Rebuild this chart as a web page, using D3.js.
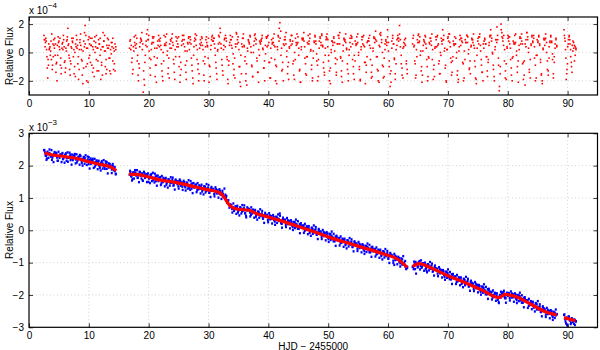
<!DOCTYPE html>
<html><head><meta charset="utf-8">
<script src="https://cdn.jsdelivr.net/npm/d3@7"></script>
<style>
html,body{margin:0;padding:0;background:#fff;}
svg{display:block;font-family:"Liberation Sans",Arial,Helvetica,sans-serif;}
</style></head><body>
<svg id="chart" width="600" height="350"></svg>
<script>
// ---------- data ----------
const xTicks = [0,10,20,30,40,50,60,70,80,90];
const topYTicks = [-2,0,2];
const botYTicks = [-3,-2,-1,0,1,2,3];
const xLabel = "HJD \u2212 2455000";
const yLabel = "Relative Flux";
const topExp = "\u22124";
const botExp = "\u22123";

// observing segments (HJD - 2455000)
const segStart = [2.5, 16.8, 64.1, 89.4];
const segEnd   = [14.5, 63.2, 88.2, 91.4];

// residuals, units of 1e-4, per segment (two interleaved cadences)
const residA = [1.2,0.9,0.7,0.8,-0.3,-1.8,-0.9,0.2,0.4,0.1,-0.5,-1.2,0.6,0.9,0.3,-0.2,-1.4,-0.7,0.5,1.1,0.8,0.2,-0.9,-1.5,0.3,0.7,1.2,0.4,-0.6,-1.1,0.1,0.9,1.7,0.6,-0.4,-1.6,-0.8,0.3,0.8,1.0,0.2,-1.0,-1.7,0.4,0.9,0.5,-0.3,-1.2,0.7,1.3,0.2,-0.6,-2.2,-1.1,0.4,1.9,1.2,0.3,-0.8,-2.1,-0.4,0.6,1.0,0.5,-0.9,-1.4,0.2,0.8,1.1,0.4,-0.5,-1.3,0.3,0.9,0.6,-0.2,-1.9,-0.7,0.4,1.4,0.8,0.1,-1.0,-1.5,0.5,1.0,0.3,-0.4,-1.3,0.2,0.7,0.4,-0.6,-1.2,0.1,0.6,0.2];
const residA2 = [0.9,0.4,1.0,0.2,-1.1,-0.5,0.6,0.3,-0.2,0.8,1.3,-0.9,-0.3,0.5,1.0,0.6,-0.8,-2.0,-0.2,0.7,0.4,1.0,-0.4,-1.1,0.6,0.2,0.9,-0.7,-1.4,0.3,0.8,1.1,0.5,-0.2,-1.2,-0.6,0.4,1.0,0.7,-0.3,-1.5,0.0,0.6,1.2,0.3,-0.8,-1.9,0.2,0.9,0.5,-0.5,-1.6,0.1,0.8,1.4,0.6,-1.0,-2.0,0.3,0.9,1.1,-0.2,-0.7,0.5,1.0,0.4,-1.1,-1.7,0.0,0.7,1.2,0.3,-0.6,-1.3,0.6,1.0,0.2,-0.9,-1.6,0.4,0.8,1.2,0.1,-0.5,-1.2,0.3,0.9,0.5,-0.4,-1.5,-0.1,0.7,1.0,0.3,-0.8,-1.3,0.4];
const residB = [0.3,0.9,0.5,-0.4,-1.2,0.1,0.7, 1.2,0.6,-0.6,-1.6,-0.8,0.4,1.0, 0.8,0.2,-2.8,-1.9,-0.7,0.5,1.3, 1.6,0.9,0.1,-1.1,-0.5,0.6,1.1, 0.7,-0.3,-1.7,-0.9,0.3,0.8,1.2, 0.4,1.0,0.2,-1.3,-2.0,-0.6,0.5, 1.1,0.7,-0.2,-1.5,-0.4,0.6,0.9, 0.3,1.3,0.5,-0.8,-1.9,-0.3,0.8, 1.0,0.4,-1.0,-2.1,-0.7,0.5,1.2, 0.6,0.9,0.1,-1.4,-0.6,0.7,1.0, 0.2,1.1,0.6,-0.9,-1.8,-0.2,0.8, 1.3,0.5,-0.5,-1.2,-2.0,0.3,0.9, 0.7,1.0,0.2,-1.6,-0.8,0.4,1.1, 0.5,-0.4,-2.1,-1.0,0.2,0.9,1.2, 0.8,1.0,0.3,-0.7,-1.5,0.1,0.6, 1.1,1.7,0.6,-0.5,-1.3,0.2,0.9, 0.4,1.0,-0.3,-1.9,-0.9,0.5,1.2, 0.9,0.3,-0.8,-1.6,-0.4,0.6,1.4, 0.6,1.1,0.2,-1.0,-2.4,-1.5,0.4, 1.0,0.5,-0.6,-2.0,-0.8,0.3,0.9, 0.7,1.2,0.4,-0.9,-1.7,0.0,0.8, 1.3,0.6,-0.4,-1.4,-2.1,-0.2,0.7, 0.9,1.0,0.3,-1.1,-0.6,0.5,1.1, 0.4,1.2,0.7,-0.7,-1.8,-0.4,0.6, 1.0,0.5,-0.5,-2.0,-1.0,0.4,1.2, 0.8,2.1,1.5,0.3,-1.2,-2.0,0.5, 1.1,0.6,-0.3,-1.5,-0.7,0.4,0.9, 0.5,1.2,0.8,-0.6,-1.9,-0.5,0.7, 1.3,0.7,-0.2,-1.3,-2.1,0.2,1.0, 0.9,1.4,0.4,-0.8,-1.6,-0.3,0.6, 0.6,1.0,0.1,-1.2,-2.0,-0.4,0.8, 1.2,0.8,-0.1,-0.9,-1.7,0.3,1.1, 0.7,1.3,0.5,-0.7,-1.4,-0.2,0.9, 1.0,0.4,-0.6,-2.0,-1.1,0.2,0.8, 0.5,1.1,0.7,-0.4,-1.6,-0.5,0.6, 1.2,0.6,-0.3,-1.3,-2.1,0.1,1.0, 0.8,1.3,0.3,-0.8,-1.5,-0.2,0.7, 0.4,1.0,0.6,-1.0,-1.9,-0.6,0.5, 1.1,0.7,-0.2,-1.2,-2.0,0.2,0.9, 0.6,1.2,0.4,-0.7,-1.4,-0.3,0.8, 1.0,0.5,-0.5,-1.8,-0.9,0.3,1.1, 0.7,1.5,0.8,-0.3,-1.3,-2.1,0.4, 1.2,0.9,0.0,-1.0,-1.7,0.2,0.8, 0.5,1.6,0.7,-0.6,-2.4,-1.3,0.3, 1.0,0.6,-0.4,-1.5,-0.8,0.5,1.2, 0.8,1.9,0.9,-0.2,-1.1,-1.8,0.4, 0.9,0.5,-0.6,-1.5];
const residB2 = [0.8,0.2,-0.7,-1.5,0.4,1.1,0.5, 0.3,1.0,-0.2,-2.0,-1.1,0.7,0.9, 1.4,0.6,-1.3,-2.3,-0.2,0.8,0.4, 0.9,1.2,-0.4,-1.6,0.2,0.7,1.0, 1.1,0.3,-0.9,-2.1,-0.4,0.5,0.9, 0.8,0.5,-0.8,-1.7,0.0,1.2,0.6, 0.5,1.3,0.1,-1.1,-1.8,0.3,0.8, 1.0,0.7,-0.5,-1.4,0.2,1.1,0.4, 0.6,1.1,-0.3,-1.6,-1.2,0.8,0.9, 1.2,0.4,-0.9,-1.9,0.1,0.6,1.1, 0.7,0.9,-0.4,-1.3,-2.2,0.4,1.0, 0.9,1.2,0.2,-0.8,-1.5,0.6,0.5, 1.1,0.5,-0.6,-2.0,-0.3,0.9,0.7, 0.4,1.0,-0.9,-1.7,0.5,1.1,0.8, 1.0,0.6,-0.2,-1.1,-1.9,0.2,1.2, 0.7,1.4,0.3,-0.9,-1.6,0.5,1.0, 1.2,0.8,-0.5,-2.2,-0.6,0.7,0.9, 0.5,1.1,-0.1,-1.2,-1.8,0.4,1.3, 0.9,0.7,-1.0,-2.1,-0.2,0.6,1.0, 1.3,0.4,-0.3,-1.5,-2.3,0.1,0.8, 0.6,1.1,0.0,-1.0,-1.7,0.5,1.2, 1.0,0.9,-0.6,-1.4,0.2,0.8,0.6, 0.8,1.2,0.2,-1.1,-2.0,-0.1,1.0, 1.1,0.5,-0.7,-1.8,0.3,0.9,0.7, 0.7,1.3,0.4,-0.9,-2.2,0.2,1.1, 1.7,1.0,-0.2,-1.3,-0.7,0.6,0.9, 0.9,1.4,0.1,-1.0,-1.9,0.3,0.8, 1.2,0.6,-0.8,-1.6,0.0,1.0,0.5, 0.6,1.1,0.3,-1.2,-2.1,0.4,0.9, 1.0,0.8,-0.4,-1.5,-0.3,0.7,1.2, 0.8,1.3,0.2,-0.9,-1.8,0.1,0.7, 1.1,0.6,-0.6,-2.0,-0.5,0.8,1.0, 0.5,1.2,0.4,-1.1,-1.6,0.3,1.1, 1.3,0.9,-0.2,-1.3,-2.2,0.0,0.8, 0.7,1.0,0.1,-0.8,-1.4,0.6,1.2, 1.0,1.4,-0.4,-1.7,-0.6,0.5,0.9, 0.9,0.7,0.2,-1.2,-2.0,0.2,1.0, 1.2,1.1,-0.5,-1.5,-0.2,0.8,0.6, 0.6,1.3,0.0,-1.0,-1.9,0.4,1.1, 1.1,0.5,-0.7,-2.2,-0.9,0.7,0.8, 0.8,1.2,0.3,-1.4,-1.7,0.1,1.0, 1.0,0.9,-0.3,-1.2,-2.0,0.5,1.3, 1.4,0.7,-0.9,-1.8,-0.4,0.6,0.9, 0.7,1.1,0.1,-1.0,-1.5,-2.1,0.8, 1.2,0.6,-0.5,-1.9,0.2,0.9,1.0, 1.0,1.3,0.4,-0.8,-1.6,0.3,0.7, 0.6,1.0,-0.8,-1.2];
const residC = [0.6,1.2,0.5,-0.8,-1.6,-0.3,0.7, 1.3,0.8,-0.2,-1.3,-2.1,0.1,0.9, 0.7,1.1,0.3,-1.0,-1.7,-0.4,0.6, 1.0,0.5,-0.5,-1.9,-0.9,0.3,1.1, 0.4,1.2,0.6,-0.6,-1.5,-0.2,0.8, 1.6,0.9,0.1,-1.1,-2.0,0.2,1.0, 0.8,1.3,0.4,-0.7,-1.4,-0.3,0.6, 1.1,0.6,-0.4,-1.6,-2.1,0.1,0.9, 0.5,1.0,0.7,-0.8,-1.8,-0.5,0.7, 1.2,0.7,-0.1,-1.2,-0.6,0.4,1.0, 0.9,1.3,0.3,-1.0,-1.9,-0.2,0.8, 0.6,1.1,0.5,-0.5,-1.4,-2.0,0.3, 1.0,0.6,-0.3,-1.3,-0.7,0.5,1.1, 1.6,0.8,0.0,-0.9,-1.7,0.2,0.9, 0.7,1.2,-0.4,-2.7,-1.5,2.0,1.4, 1.0,0.5,-0.6,-1.8,-0.8,0.4,1.2, 0.8,1.1,0.3,-1.1,-2.0,-0.3,0.6, 1.2,0.7,-0.2,-1.4,-0.6,0.5,1.0, 0.6,1.3,0.6,-0.7,-1.6,-2.3,0.4, 1.4,0.9,0.0,-1.2,-0.5,0.6,1.1, 0.8,1.2,0.4,-0.9,-1.8,-0.2,0.7, 1.1,0.6,-0.5,-1.6,-2.0,0.2,0.9, 0.5,1.0,0.7,-0.6,-1.3,-0.4,0.8, 1.2,0.8,-0.1,-1.5,-0.7,0.3,0.9,0.5];
const residC2 = [1.0,0.4,-0.6,-1.8,0.2,0.9,1.2, 0.7,1.1,0.1,-1.0,-1.6,0.5,0.8, 1.2,0.6,-0.5,-2.0,-0.3,0.7,1.0, 0.8,1.3,0.2,-1.2,-1.7,0.4,0.9, 1.1,0.5,-0.8,-1.5,0.0,1.0,0.6, 0.9,1.2,0.3,-0.9,-2.1,0.2,1.1, 1.3,0.7,-0.4,-1.6,-0.6,0.8,0.5, 0.6,1.0,0.0,-1.3,-1.9,0.4,1.2, 1.0,0.8,-0.7,-2.0,0.1,0.9,0.7, 1.2,1.1,0.2,-1.1,-1.5,0.5,0.9, 0.7,0.5,-0.6,-1.8,-2.2,0.3,1.0, 1.1,1.3,0.1,-0.9,-1.4,0.6,0.8, 0.9,0.6,-0.3,-1.7,-0.5,0.7,1.2, 1.2,1.0,-0.1,-1.2,-2.0,0.4,0.9, 1.8,0.9,-0.9,-2.4,-1.0,1.6,1.1, 0.8,1.2,0.2,-1.3,-1.9,0.3,1.0, 1.1,0.6,-0.5,-1.6,-0.4,0.8,0.7, 0.6,1.3,0.1,-1.0,-2.1,0.2,1.1, 1.0,0.8,-0.8,-1.9,-0.6,0.6,0.9, 1.4,1.1,0.3,-1.4,-1.8,0.5,1.2, 0.7,1.0,-0.4,-2.0,-0.2,0.9,0.8, 1.2,0.5,-0.7,-1.5,-2.2,0.3,1.0, 0.9,1.3,0.0,-1.2,-1.6,0.4,0.7, 1.1,0.7,-0.5,-1.8,-0.3,0.6,1.0,0.4];
const residD = [1.6,1.0,0.2,-1.9,-1.2,0.4,0.9,1.2,0.6,-0.3,-1.0,0.5,0.8,0.3,-0.6,0.4,0.2];
const residD2 = [1.2,0.8,-0.4,-1.5,-0.8,0.6,1.1,0.9,0.2,-0.7,-1.4,0.1,0.7,0.5,-0.2,0.3];

// relative flux, units of 1e-3, per segment (two interleaved cadences)
const fluxA = [2.48,2.41,2.30,2.22,2.35,2.39, 2.37,2.28,2.18,2.31,2.36,2.33, 2.40,2.25,2.15,2.29,2.34,2.31, 2.36,2.20,2.27,2.33,2.38,2.24, 2.12,2.26,2.31,2.34,2.22,2.17, 2.30,2.36,2.19,2.10,2.25,2.28, 2.33,2.21,2.08,2.20,2.27,2.23, 2.15,2.02,2.19,2.26,2.17,2.05, 2.18,2.21,2.09,1.97,2.12,2.16, 2.10,2.01,1.93,2.08,2.14,2.06, 1.98,1.90,2.06,2.11,2.02,1.94, 2.05,1.96,1.88,1.99,1.92,1.83,1.75];
const fluxA2 = [2.48,2.32,2.18,2.43,2.24,2.50, 2.32,2.48,2.25,2.11,2.42,2.33, 2.38,2.15,2.43,2.24,2.34,2.11, 2.39,2.23,2.09,2.34,2.15,2.41, 2.24,2.40,2.17,2.03,2.34,2.25, 2.30,2.07,2.35,2.16,2.26,2.03, 2.30,2.14,2.00,2.25,2.06,2.32, 2.12,2.28,2.05,1.91,2.22,2.13, 2.16,1.93,2.21,2.02,2.12,1.89, 2.15,1.99,1.85,2.10,1.91,2.17, 1.97,2.13,1.90,1.76,2.07,1.98, 2.00,1.77,2.05,1.86,1.96,1.73];
const fluxB = [1.72,1.80,1.66,1.58,1.75,1.79, 1.78,1.70,1.62,1.74,1.81,1.69, 1.60,1.55,1.72,1.77,1.68,1.73, 1.70,1.50,1.62,1.71,1.74,1.63, 1.55,1.48,1.66,1.69,1.60,1.52, 1.61,1.64,1.45,1.53,1.62,1.58, 1.56,1.41,1.50,1.58,1.55,1.46, 1.52,1.57,1.38,1.47,1.54,1.51, 1.43,1.36,1.50,1.53,1.41,1.35, 1.47,1.49,1.33,1.40,1.46,1.38, 1.30,1.25,1.42,1.45,1.37,1.32, 1.38,1.41,1.24,1.31,1.39,1.29, 1.35,1.20,1.28,1.36,1.33,1.22, 1.29,1.32,1.16,1.24,1.30,1.26, 1.25,1.12,1.20,1.27,1.23,1.14, 1.19,1.22,1.10,1.15,1.13,1.05, 1.05,1.00,0.92,0.86,0.80,0.76, 0.74,0.66,0.71,0.60,0.68,0.73, 0.69,0.55,0.63,0.70,0.67,0.58, 0.66,0.68,0.52,0.45,0.62,0.67, 0.63,0.55,0.48,0.61,0.64,0.57, 0.56,0.42,0.50,0.57,0.55,0.47, 0.50,0.52,0.36,0.44,0.49,0.43, 0.45,0.32,0.40,0.46,0.43,0.35, 0.39,0.41,0.27,0.33,0.40,0.36, 0.35,0.52,0.30,0.20,0.34,0.31, 0.29,0.16,0.25,0.31,0.28,0.19, 0.24,0.26,0.10,0.18,0.25,0.20, 0.18,0.05,0.12,0.19,0.16,0.08, 0.12,0.14,-0.02,0.06,0.13,0.07, 0.06,-0.08,0.00,0.07,0.04,-0.05, 0.00,0.03,-0.14,-0.06,0.01,-0.04, -0.07,-0.20,-0.12,-0.05,-0.09,-0.17, -0.13,-0.10,-0.27,-0.19,-0.12,-0.18, -0.21,-0.34,-0.26,-0.19,-0.23,-0.31, -0.27,-0.24,-0.40,-0.33,-0.26,-0.29, -0.33,-0.46,-0.38,-0.31,-0.35,-0.43, -0.38,-0.35,-0.52,-0.44,-0.37,-0.40, -0.44,-0.57,-0.49,-0.42,-0.46,-0.54, -0.50,-0.47,-0.64,-0.56,-0.49,-0.52, -0.55,-0.68,-0.60,-0.53,-0.57,-0.65, -0.61,-0.58,-0.75,-0.67,-0.60,-0.63, -0.67,-0.80,-0.72,-0.65,-0.69,-0.77, -0.74,-0.71,-0.88,-0.80,-0.73,-0.76, -0.81,-0.94,-1.07,-0.79,-0.83,-0.91, -0.89,-0.86,-1.02,-0.95,-0.90,-1.05, -1.00,-1.12,-1.18,-1.13];
const fluxB2 = [1.84,1.68,1.54,1.79,1.60,1.86, 1.70,1.86,1.63,1.49,1.80,1.71, 1.76,1.53,1.81,1.62,1.72,1.49, 1.76,1.60,1.46,1.71,1.52,1.78, 1.59,1.75,1.52,1.38,1.69,1.60, 1.63,1.40,1.68,1.49,1.59,1.36, 1.62,1.46,1.32,1.57,1.38,1.64, 1.47,1.63,1.40,1.26,1.57,1.48, 1.52,1.29,1.57,1.38,1.48,1.25, 1.53,1.37,1.23,1.48,1.29,1.55, 1.36,1.52,1.29,1.15,1.46,1.37, 1.41,1.18,1.46,1.27,1.37,1.14, 1.41,1.25,1.11,1.36,1.17,1.43, 1.24,1.40,1.17,1.03,1.34,1.25, 1.28,1.05,1.33,1.14,1.24,1.01, 1.27,1.11,0.97,1.22,1.03,1.29, 1.10,1.06,0.85,0.93,0.70,0.80, 0.78,0.55,0.83,0.64,0.74,0.51, 0.76,0.60,0.46,0.71,0.52,0.78, 0.61,0.77,0.54,0.40,0.71,0.62, 0.66,0.43,0.71,0.52,0.62,0.39, 0.63,0.47,0.33,0.58,0.39,0.65, 0.44,0.60,0.37,0.23,0.54,0.45, 0.48,0.25,0.53,0.34,0.44,0.21, 0.47,0.31,0.17,0.42,0.23,0.49, 0.29,0.45,0.22,0.08,0.39,0.30, 0.33,0.10,0.38,0.19,0.29,0.06, 0.31,0.15,0.01,0.26,0.07,0.33, 0.12,0.28,0.05,-0.09,0.22,0.13, 0.15,-0.08,0.20,0.01,0.11,-0.12, 0.13,-0.03,-0.17,0.08,-0.11,0.15, -0.06,0.10,-0.13,-0.27,0.04,-0.05, -0.04,-0.27,0.01,-0.18,-0.08,-0.31, -0.06,-0.22,-0.36,-0.11,-0.30,-0.04, -0.27,-0.11,-0.34,-0.48,-0.17,-0.26, -0.24,-0.47,-0.19,-0.38,-0.28,-0.51, -0.26,-0.42,-0.56,-0.31,-0.50,-0.24, -0.44,-0.28,-0.51,-0.65,-0.34,-0.43, -0.41,-0.64,-0.36,-0.55,-0.45,-0.68, -0.43,-0.59,-0.73,-0.48,-0.67,-0.41, -0.61,-0.45,-0.68,-0.82,-0.51,-0.60, -0.58,-0.81,-0.53,-0.72,-0.62,-0.85, -0.60,-0.76,-0.90,-0.65,-0.84,-0.58, -0.80,-0.64,-0.87,-1.01,-0.70,-0.79, -0.78,-1.01,-0.73,-0.92,-0.82,-1.05, -0.82,-0.98,-1.12,-0.87,-1.06,-0.80, -1.05,-0.95,-1.20,-1.16];
const fluxC = [-1.13,-1.20,-1.05,-0.98,-1.08,-1.15, -1.00,-0.95,-1.10,-1.16,-1.02,-1.06, -1.07,-1.20,-1.25,-1.05,-1.08,-1.14, -1.12,-1.09,-1.28,-1.20,-1.13,-1.18, -1.21,-1.34,-1.27,-1.19,-1.23,-1.31, -1.30,-1.27,-1.44,-1.36,-1.29,-1.32, -1.38,-1.51,-1.43,-1.36,-1.40,-1.48, -1.46,-1.43,-1.60,-1.52,-1.45,-1.48, -1.53,-1.66,-1.58,-1.50,-1.54,-1.62, -1.60,-1.57,-1.74,-1.66,-1.59,-1.62, -1.68,-1.81,-1.73,-1.65,-1.69,-1.77, -1.76,-1.73,-1.90,-1.82,-1.75,-1.78, -1.85,-1.98,-1.90,-1.82,-1.86,-1.94, -1.94,-1.91,-2.08,-2.00,-1.93,-1.96, -2.02,-2.15,-2.22,-2.04,-2.08,-1.99, -1.92,-1.95,-2.06,-2.10,-1.98,-2.03, -1.97,-2.10,-2.02,-1.95,-1.99,-2.07, -2.02,-1.99,-2.16,-2.08,-2.01,-2.04, -2.11,-2.24,-2.16,-2.09,-2.13,-2.21, -2.20,-2.17,-2.34,-2.26,-2.19,-2.22, -2.26,-2.39,-2.33,-2.25,-2.29,-2.37, -2.39,-2.36,-2.53,-2.45,-2.38,-2.41, -2.48,-2.61,-2.53,-2.46,-2.50,-2.58, -2.54,-2.51,-2.68,-2.60,-2.55,-2.63,-2.59];
const fluxC2 = [-1.13,-0.97,-1.20,-1.34,-1.03,-1.12, -0.98,-1.21,-0.93,-1.12,-1.02,-1.25, -1.00,-1.16,-1.30,-1.05,-1.24,-0.98, -1.19,-1.03,-1.26,-1.40,-1.09,-1.18, -1.19,-1.42,-1.14,-1.33,-1.23,-1.46, -1.23,-1.39,-1.53,-1.28,-1.47,-1.21, -1.45,-1.29,-1.52,-1.66,-1.35,-1.44, -1.43,-1.66,-1.38,-1.57,-1.47,-1.70, -1.46,-1.62,-1.76,-1.51,-1.70,-1.44, -1.66,-1.50,-1.73,-1.87,-1.56,-1.65, -1.65,-1.88,-1.60,-1.79,-1.69,-1.92, -1.69,-1.85,-1.99,-1.74,-1.93,-1.67, -1.91,-1.75,-1.98,-2.12,-1.81,-1.90, -1.91,-2.14,-1.86,-2.05,-1.95,-2.18, -1.95,-2.11,-2.25,-2.00,-1.90,-1.93, -2.03,-1.87,-2.10,-2.24,-1.93,-2.02, -1.94,-2.17,-1.89,-2.08,-1.98,-2.21, -1.95,-2.11,-2.25,-2.00,-2.19,-1.93, -2.17,-2.01,-2.24,-2.38,-2.07,-2.16, -2.17,-2.40,-2.12,-2.31,-2.21,-2.44, -2.21,-2.37,-2.51,-2.26,-2.45,-2.19, -2.45,-2.29,-2.52,-2.66,-2.35,-2.44, -2.45,-2.68,-2.40,-2.59,-2.49,-2.72, -2.47,-2.63,-2.77,-2.52,-2.71,-2.45,-2.60];
const fluxD = [-2.62,-2.75,-2.88,-2.92,-2.71,-2.68,-2.79,-2.86,-2.74,-2.80,-2.89,-2.77,-2.82];
const fluxD2 = [-2.60,-2.82,-2.70,-2.95,-2.66,-2.78,-2.90,-2.72,-2.84,-2.76,-2.93,-2.81];

// fitted model (red line), null = gap between segments
const fitT = [2.6,4,6,8,10,12,13.5,14.6, null, 16.7,18,20,22,24,26,28,30,31.8,32.5,33.3,34,35,36.8,38,39.6,42,45,48,50.7,53,56.3,59,61.8,63.2, null, 64.1,65.2,67,70.2,73,75.7,78.5,79.6,81.3,84.1,86.3,88.2, null, 89.4,91.3];
const fitV = [2.40,2.33,2.28,2.22,2.12,2.03,1.97,1.85, null, 1.74,1.73,1.65,1.55,1.50,1.42,1.33,1.25,1.17,1.05,0.82,0.70,0.65,0.62,0.52,0.43,0.30,0.12,-0.07,-0.25,-0.38,-0.56,-0.72,-0.92,-1.15, null, -1.12,-1.03,-1.15,-1.42,-1.63,-1.85,-2.08,-1.98,-2.05,-2.31,-2.52,-2.62, null, -2.70,-2.80];

// ---------- drawing ----------
const svg = d3.select("#chart");
const FONT = 10;
const left = 29, right = 597.5;
const x = d3.scaleLinear().domain([0,95]).range([left,right]);
const yTop = d3.scaleLinear().domain([-3,2.5]).range([95,17]);
const yBot = d3.scaleLinear().domain([-3,3]).range([327.3,133.3]);

function toPoints(segs, phase){
  const pts=[];
  segs.forEach((vals,i)=>{
    const n=vals.length, s=segStart[i], e=segEnd[i];
    const step=(e-s)/(n-1+phase);
    vals.forEach((v,j)=>pts.push({t: s + (j+phase)*step, v}));
  });
  return pts;
}
const resid = toPoints([residA,residB,residC,residD],0).concat(toPoints([residA2,residB2,residC2,residD2],0.5));
const flux = toPoints([fluxA,fluxB,fluxC,fluxD],0).concat(toPoints([fluxA2,fluxB2,fluxC2,fluxD2],0.5));

function panel(y, yTicks, top, bottom){
  const g = svg.append("g");
  g.selectAll(".gx").data(xTicks.filter(d=>d>0)).enter().append("line")
    .attr("x1",d=>x(d)).attr("x2",d=>x(d)).attr("y1",top).attr("y2",bottom)
    .attr("stroke","#c8c8c8").attr("stroke-width",0.8).attr("stroke-dasharray","1,2.5");
  g.selectAll(".gy").data(yTicks.filter(d=>y(d)>top+1 && y(d)<bottom-1)).enter().append("line")
    .attr("x1",left).attr("x2",right).attr("y1",d=>y(d)).attr("y2",d=>y(d))
    .attr("stroke","#c8c8c8").attr("stroke-width",0.8).attr("stroke-dasharray","1,2.5");
  return g;
}
function frame(y, yTicks, top, bottom, g){
  const axB = d3.axisBottom(x).tickValues(xTicks).tickSizeInner(-4).tickSizeOuter(0).tickFormat(d3.format("d"));
  const axT = d3.axisTop(x).tickValues(xTicks).tickSizeInner(-4).tickSizeOuter(0).tickFormat("");
  const axL = d3.axisLeft(y).tickValues(yTicks).tickSizeInner(-4).tickSizeOuter(0).tickPadding(5).tickFormat(d=>d<0?"\u2212"+Math.abs(d):String(d));
  const axR = d3.axisRight(y).tickValues(yTicks).tickSizeInner(-4).tickSizeOuter(0).tickFormat("");
  const gb = g.append("g").attr("transform",`translate(0,${bottom})`).call(axB);
  const gt = g.append("g").attr("transform",`translate(0,${top})`).call(axT);
  const gl = g.append("g").attr("transform",`translate(${left},0)`).call(axL);
  const gr = g.append("g").attr("transform",`translate(${right},0)`).call(axR);
  [gb,gt,gl,gr].forEach(a=>{
    a.select(".domain").remove();
    a.selectAll("line").attr("stroke","#000").attr("stroke-width",0.8);
    a.selectAll("text").attr("fill","#000").style("font-size",FONT+"px").style("font-family","Liberation Sans, Arial, sans-serif");
  });
  gb.selectAll("text").attr("dy","0").attr("y",11.5);
  g.append("rect").attr("x",left).attr("y",top).attr("width",right-left).attr("height",bottom-top)
    .attr("fill","none").attr("stroke","#000").attr("stroke-width",1.2);
}

// --- top panel
const gTop = panel(yTop, topYTicks, 17, 95);
gTop.append("g").selectAll("rect").data(resid).enter().append("rect")
  .attr("x",d=>x(d.t)-0.8).attr("y",d=>yTop(d.v)-0.8).attr("width",1.6).attr("height",1.6)
  .attr("fill","#ff0000");
frame(yTop, topYTicks, 17, 95, gTop);

// --- bottom panel
const gBot = panel(yBot, botYTicks, 133.3, 327.3);
gBot.append("g").selectAll("rect").data(flux).enter().append("rect")
  .attr("x",d=>x(d.t)-1).attr("y",d=>yBot(d.v)-1.2).attr("width",2).attr("height",2.4)
  .attr("fill","#0000ff");
const fitData = fitT.map((t,i)=>({t, v: fitV[i]}));
gBot.append("path").datum(fitData)
  .attr("d", d3.line().defined(d=>d.t!==null && d.v!==null).x(d=>x(d.t)).y(d=>yBot(d.v)).curve(d3.curveMonotoneX))
  .attr("fill","none").attr("stroke","#ff0000").attr("stroke-width",3.2).attr("stroke-linejoin","round");
frame(yBot, botYTicks, 133.3, 327.3, gBot);

// exponent labels
function expLabel(yBase, exp){
  const t = svg.append("text").attr("x",left).attr("y",yBase).style("font-size",FONT+"px").attr("fill","#000");
  t.append("tspan").text("x 10");
  t.append("tspan").attr("dy",-6).style("font-size","8px").text(exp);
}
expLabel(14, topExp);
expLabel(130.5, botExp);

// y labels
[56,230].forEach(cy=>{
  svg.append("text").attr("transform",`translate(13,${cy}) rotate(-90)`)
    .attr("text-anchor","middle").style("font-size",FONT+"px").attr("fill","#000").text(yLabel);
});
// x label
svg.append("text").attr("x",(left+right)/2).attr("y",349.5).attr("text-anchor","middle")
  .style("font-size",FONT+"px").attr("fill","#000").text(xLabel);
</script>
</body></html>
